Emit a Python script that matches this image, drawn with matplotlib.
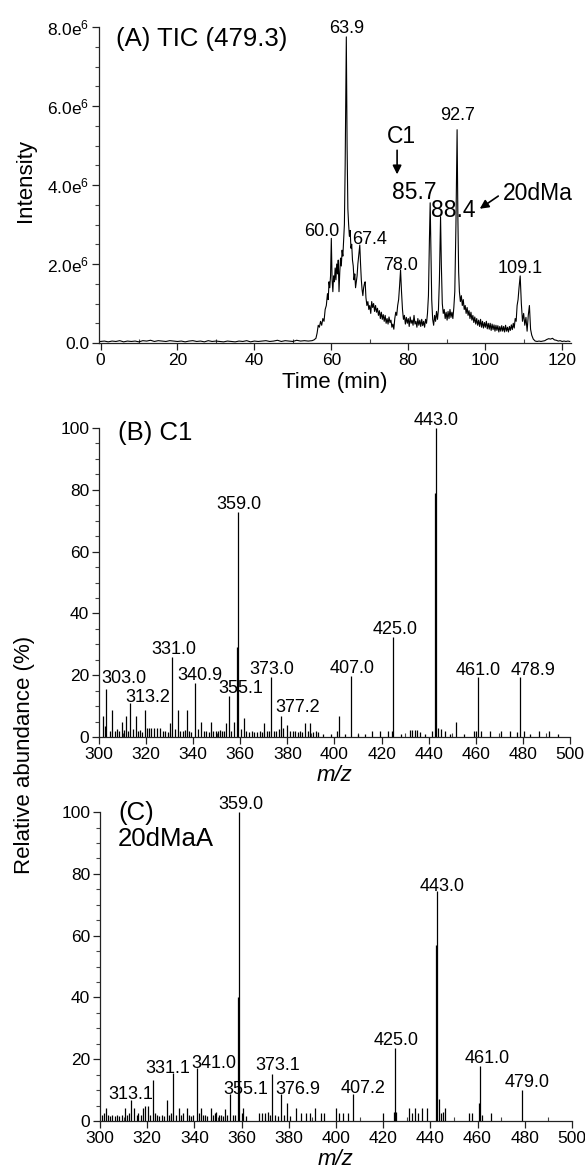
import numpy as np
import matplotlib
matplotlib.use("Agg")
from matplotlib import pyplot as plt
from matplotlib.ticker import MultipleLocator, FuncFormatter

plt.rcParams['font.family'] = ['Liberation Sans', 'DejaVu Sans']
plt.rcParams['mathtext.fontset'] = 'custom'
plt.rcParams['mathtext.rm'] = 'Liberation Sans'
plt.rcParams['mathtext.it'] = 'Liberation Sans:italic'

# ---- (A) TIC trace, intensity in units of 1e6 ----
tic_base_time = np.arange(0, 55, 1.0)
tic_base_int = [0.04, 0.05, 0.03, 0.05, 0.04, 0.06, 0.03, 0.05, 0.04, 0.05,
                0.03, 0.06, 0.05, 0.07, 0.04, 0.06, 0.05, 0.04, 0.06, 0.05,
                0.04, 0.05, 0.03, 0.05, 0.06, 0.04, 0.05, 0.03, 0.06, 0.04,
                0.05, 0.04, 0.03, 0.05, 0.04, 0.03, 0.05, 0.04, 0.06, 0.03,
                0.05, 0.04, 0.05, 0.06, 0.04, 0.05, 0.07, 0.04, 0.06, 0.05,
                0.04, 0.07, 0.05, 0.06, 0.05]
tic_points = [
    (55.0, 0.06), (55.5, 0.08), (56.0, 0.12), (56.3, 0.25), (56.6, 0.45), (56.9, 0.40),
    (57.2, 0.55), (57.5, 0.45), (57.8, 0.62), (58.1, 0.55), (58.4, 0.85), (58.7, 0.95),
    (59.0, 1.25), (59.2, 1.10), (59.4, 1.55), (59.6, 1.40), (59.8, 1.70), (60.0, 2.65),
    (60.2, 1.60), (60.4, 1.30), (60.6, 1.70), (60.8, 1.55), (61.0, 1.90), (61.2, 1.60),
    (61.4, 2.00), (61.6, 1.75), (61.8, 2.10), (62.0, 1.30), (62.2, 1.80), (62.4, 2.15),
    (62.6, 1.95), (62.8, 2.35), (63.0, 2.20), (63.2, 2.60), (63.4, 3.00), (63.6, 4.50),
    (63.9, 7.75), (64.1, 5.00), (64.3, 3.40), (64.5, 3.00), (64.7, 2.70), (64.9, 2.85),
    (65.1, 2.40), (65.3, 2.50), (65.5, 2.10), (65.7, 1.95), (65.9, 1.60), (66.1, 1.75),
    (66.3, 1.40), (66.5, 1.55), (66.7, 1.70), (66.9, 2.00), (67.1, 2.20), (67.4, 2.48),
    (67.6, 2.00), (67.8, 1.60), (68.0, 1.35), (68.2, 1.20), (68.4, 1.40), (68.6, 1.50),
    (68.8, 1.55), (69.0, 1.15), (69.25, 0.95), (69.5, 1.05), (69.75, 0.85), (70.0, 0.95),
    (70.25, 0.75), (70.5, 1.05), (70.75, 0.90), (71.0, 1.00), (71.25, 0.80), (71.5, 0.95),
    (71.75, 0.78), (72.0, 0.88), (72.25, 0.70), (72.5, 0.82), (72.75, 0.62), (73.0, 0.78),
    (73.25, 0.60), (73.5, 0.72), (73.75, 0.55), (74.0, 0.70), (74.25, 0.50), (74.5, 0.62),
    (74.75, 0.48), (75.0, 0.66), (75.25, 0.52), (75.5, 0.58), (75.75, 0.40), (76.0, 0.48),
    (76.25, 0.35), (76.5, 0.62), (76.75, 0.78), (77.0, 0.70), (77.25, 0.95), (77.5, 1.10),
    (77.75, 1.45), (78.0, 1.85), (78.25, 1.30), (78.5, 0.85), (78.75, 0.60), (79.0, 0.70),
    (79.25, 0.48), (79.5, 0.65), (79.75, 0.50), (80.0, 0.62), (80.25, 0.42), (80.5, 0.66),
    (80.75, 0.50), (81.0, 0.58), (81.25, 0.45), (81.5, 0.70), (81.75, 0.48), (82.0, 0.55),
    (82.25, 0.40), (82.5, 0.62), (82.75, 0.45), (83.0, 0.58), (83.25, 0.42), (83.5, 0.60),
    (83.75, 0.44), (84.0, 0.55), (84.25, 0.40), (84.5, 0.60), (84.75, 0.50), (85.0, 0.75),
    (85.25, 1.20), (85.5, 2.60), (85.7, 3.55), (85.9, 2.30), (86.1, 1.10), (86.35, 0.60),
    (86.6, 0.45), (86.85, 0.70), (87.1, 0.55), (87.35, 0.80), (87.6, 0.60), (87.85, 0.85),
    (88.1, 1.60), (88.4, 3.20), (88.6, 2.00), (88.85, 1.00), (89.1, 0.75), (89.35, 0.85),
    (89.6, 0.62), (89.85, 0.78), (90.1, 0.58), (90.35, 0.80), (90.6, 0.62), (90.85, 0.85),
    (91.1, 0.65), (91.35, 0.78), (91.6, 0.62), (91.85, 0.90), (92.1, 1.30), (92.4, 3.00),
    (92.7, 5.40), (92.9, 3.20), (93.1, 1.80), (93.3, 1.30), (93.55, 1.05), (93.8, 1.20),
    (94.05, 0.95), (94.3, 1.10), (94.55, 0.85), (94.8, 0.95), (95.05, 0.75), (95.3, 0.90),
    (95.55, 0.70), (95.8, 0.82), (96.05, 0.62), (96.3, 0.78), (96.55, 0.58), (96.8, 0.70),
    (97.05, 0.52), (97.3, 0.66), (97.55, 0.48), (97.8, 0.62), (98.05, 0.45), (98.3, 0.58),
    (98.55, 0.42), (98.8, 0.60), (99.05, 0.40), (99.3, 0.55), (99.55, 0.38), (99.8, 0.52),
    (100.05, 0.40), (100.3, 0.55), (100.55, 0.36), (100.8, 0.50), (101.05, 0.35), (101.3, 0.50),
    (101.55, 0.32), (101.8, 0.48), (102.05, 0.34), (102.3, 0.46), (102.55, 0.30), (102.8, 0.45),
    (103.05, 0.32), (103.3, 0.44), (103.55, 0.28), (103.8, 0.42), (104.05, 0.30), (104.3, 0.44),
    (104.55, 0.30), (104.8, 0.42), (105.05, 0.28), (105.3, 0.45), (105.55, 0.30), (105.8, 0.40),
    (106.05, 0.28), (106.3, 0.42), (106.55, 0.32), (106.8, 0.46), (107.05, 0.34), (107.3, 0.50),
    (107.55, 0.38), (107.8, 0.62), (108.05, 0.55), (108.3, 0.95), (108.55, 1.10), (108.8, 1.40),
    (109.1, 1.70), (109.4, 1.00), (109.7, 0.55), (110.0, 0.75), (110.3, 0.45), (110.6, 0.65),
    (110.9, 0.30), (111.2, 0.70), (111.5, 0.95), (111.8, 0.35), (112.1, 0.20), (112.5, 0.10),
    (113.0, 0.05), (113.5, 0.04), (114.0, 0.05), (114.5, 0.04), (115.0, 0.05), (115.5, 0.06),
    (116.0, 0.09), (116.5, 0.11), (117.0, 0.10), (117.5, 0.12), (118.0, 0.08), (118.5, 0.07),
    (119.0, 0.05), (119.5, 0.06), (120.0, 0.04), (120.5, 0.05), (121.0, 0.04), (121.5, 0.05),
    (122.0, 0.04),
]
tic_peaks = [60.0, 63.9, 67.4, 78.0, 85.7, 88.4, 92.7, 109.1]
tic_big_labels = [85.7, 88.4]

# ---- (B) C1 spectrum ----
b_mz = [301.6, 302.4, 303.0, 304.5, 305.7, 306.8, 307.7, 308.6, 309.6, 310.5,
        311.6, 312.4, 313.2, 314.3, 315.6, 316.5, 317.4, 318.3, 319.6, 320.6,
        321.4, 322.3, 323.4, 324.7, 326.0, 327.0, 328.1, 329.1, 330.0, 331.0,
        332.1, 333.6, 334.5, 335.5, 336.5, 337.5, 338.4, 339.2, 340.9, 342.2,
        343.5, 344.6, 345.6, 346.6, 347.5, 348.6, 349.5, 350.6, 351.4, 352.4,
        353.2, 354.0, 355.1, 356.2, 357.5, 358.6, 359.0, 360.3, 361.5, 362.6,
        363.6, 364.8, 366.0, 367.3, 368.4, 369.4, 370.0, 371.3, 372.3, 373.0,
        374.3, 375.3, 376.4, 377.2, 378.3, 379.7, 381.0, 382.3, 383.4, 384.5,
        385.4, 386.4, 387.6, 388.6, 389.7, 390.8, 392.2, 393.1, 395.2, 398.4,
        401.0, 402.0, 404.3, 407.0, 409.8, 413.0, 416.1, 419.4, 422.7, 424.6,
        425.0, 428.2, 432.0, 433.0, 434.0, 435.2, 436.5, 438.3, 441.5, 442.6,
        443.0, 444.0, 445.2, 446.8, 449.0, 451.4, 455.0, 459.2, 460.3, 461.0,
        462.3, 466.0, 470.8, 474.6, 477.6, 478.9, 480.3, 483.0, 487.0, 491.0,
        495.0]
b_abund = [6.8, 3.5, 15.4, 2.0, 8.9, 2.0, 2.5, 1.8, 5.0, 2.2,
           6.8, 2.0, 11.0, 2.5, 6.8, 1.8, 2.2, 1.5, 8.9, 3.0,
           3.0, 3.0, 3.0, 3.0, 3.0, 1.8, 2.0, 1.5, 4.6, 26.0,
           2.5, 8.9, 2.0, 1.8, 2.2, 8.9, 2.0, 1.5, 17.5, 2.5,
           5.0, 1.8, 2.0, 1.5, 5.0, 2.0, 1.8, 2.0, 2.2, 1.8,
           2.0, 4.6, 13.3, 2.0, 5.0, 29.0, 72.8, 2.5, 6.0, 2.0,
           1.5, 1.8, 1.5, 1.5, 1.8, 1.5, 4.6, 1.8, 2.0, 19.5,
           1.8, 2.0, 2.5, 6.8, 3.0, 4.0, 1.8, 2.0, 1.8, 1.5,
           2.0, 1.5, 4.6, 2.0, 4.6, 1.5, 2.0, 1.5, 1.0, 1.0,
           2.0, 6.8, 1.0, 19.7, 1.0, 1.0, 2.0, 2.0, 2.0, 2.0,
           32.4, 1.0, 2.2, 2.2, 2.2, 2.2, 1.5, 1.0, 2.0, 79.0,
           100.0, 3.0, 2.5, 2.0, 1.0, 5.0, 1.0, 2.0, 2.0, 19.3,
           2.0, 2.0, 2.0, 2.0, 1.5, 19.3, 2.0, 1.0, 2.0, 2.0,
           1.0]
b_labels = [303.0, 313.2, 331.0, 340.9, 355.1, 359.0, 373.0, 377.2, 407.0,
            425.0, 443.0, 461.0, 478.9]

# ---- (C) 20dMaA spectrum ----
c_mz = [300.8, 301.6, 302.7, 303.5, 304.4, 305.3, 306.2, 307.3, 308.2, 309.3,
        310.8, 311.6, 312.4, 313.1, 314.6, 315.5, 316.3, 317.2, 318.3, 319.2,
        320.2, 321.1, 322.3, 323.3, 324.2, 325.1, 326.2, 327.3, 328.5, 329.3,
        330.3, 331.1, 332.2, 333.4, 334.3, 335.3, 336.9, 337.8, 338.7, 339.6,
        341.0, 341.8, 342.8, 343.7, 344.6, 345.5, 346.9, 347.8, 348.6, 349.3,
        350.3, 351.2, 352.1, 352.8, 353.8, 355.1, 356.2, 357.3, 358.5, 359.0,
        360.0, 360.8, 362.0, 367.2, 368.5, 369.8, 371.0, 372.2, 373.1, 374.2,
        375.4, 376.9, 377.8, 379.1, 380.6, 383.0, 385.2, 387.1, 389.0, 391.0,
        393.5, 395.0, 400.1, 401.4, 403.0, 405.0, 407.2, 420.0, 424.4, 425.0,
        425.6, 430.8, 432.2, 433.6, 434.8, 436.4, 438.7, 442.6, 443.0, 443.8,
        444.6, 445.5, 446.4, 456.2, 457.5, 460.6, 461.0, 462.0, 465.5, 479.0]
c_abund = [2.0, 2.5, 4.3, 2.0, 1.5, 2.0, 1.5, 2.0, 1.5, 2.0,
           4.3, 2.0, 2.5, 6.8, 4.3, 2.0, 2.5, 1.8, 4.3, 4.8,
           4.8, 2.0, 13.3, 2.5, 2.0, 1.5, 2.0, 1.5, 6.8, 2.0,
           2.5, 15.7, 2.0, 4.3, 2.0, 2.5, 4.3, 2.0, 1.5, 2.0,
           17.3, 2.5, 4.3, 2.0, 2.0, 1.5, 4.3, 2.0, 2.5, 3.0,
           2.0, 2.0, 1.5, 4.0, 2.0, 8.8, 2.0, 2.0, 40.0, 100.0,
           2.5, 4.3, 1.5, 2.5, 2.5, 2.5, 3.0, 2.0, 15.1, 2.0,
           1.5, 8.8, 2.0, 5.9, 1.5, 4.3, 2.5, 2.5, 2.5, 4.3,
           2.5, 2.5, 4.3, 2.5, 2.5, 2.5, 8.6, 2.5, 3.0, 23.8,
           3.0, 4.3, 2.5, 4.3, 2.5, 4.3, 4.3, 57.0, 74.3, 7.0,
           2.5, 3.0, 4.3, 2.5, 2.5, 6.0, 17.9, 2.0, 2.5, 10.0]
c_labels = [313.1, 331.1, 341.0, 355.1, 359.0, 373.1, 376.9, 407.2, 425.0,
            443.0, 461.0, 479.0]

# label offsets in points (layout only)
tic_offsets = {60.0: (-7, 2), 63.9: (0, 3), 67.4: (7, 1), 78.0: (0, 0),
               85.7: (-11.5, 2.7), 88.4: (9, -0.5), 92.7: (0, 7), 109.1: (0, 2)}
b_offsets = {303.0: (13, 4.5), 313.2: (13, 1), 331.0: (1, 2), 340.9: (3, 2),
             355.1: (9, 2), 359.0: (1, 2), 373.0: (1, 2), 377.2: (12, 3),
             407.0: (1, 2), 425.0: (1, 2), 443.0: (0, 2), 461.0: (0, 2), 478.9: (9, 2)}
c_offsets = {313.1: (0, 1), 331.1: (-4, -0.5), 341.0: (12, 0), 355.1: (11.5, 0),
             359.0: (1, 2), 373.1: (3.5, 3), 376.9: (11.5, 0), 407.2: (7, 1),
             425.0: (1, 1.5), 443.0: (3.5, 0), 461.0: (5, 2), 479.0: (3.5, 2)}

TICK_FS = 12.5
LABEL_FS = 16
PEAK_FS = 13
TITLE_FS = 18.5


def style_axes(ax):
    for side in ['top', 'right']:
        ax.spines[side].set_visible(False)
    for side in ['left', 'bottom']:
        ax.spines[side].set_linewidth(0.9)
        ax.spines[side].set_color('#222222')
    ax.tick_params(which='major', labelsize=TICK_FS, length=5, width=0.9, direction='out',
                   color='#222222', pad=2)
    ax.tick_params(axis='y', which='minor', length=3, width=0.8, direction='out', color='#444444')
    ax.tick_params(axis='x', which='minor', length=3, width=0.8, direction='in', color='#444444')


fig = plt.figure(figsize=(5.85, 11.74), dpi=100)

# ---- panel A ----
axA = fig.add_axes([0.1692, 0.7078, 0.8068, 0.2692])
tic_time = np.concatenate([tic_base_time, [p[0] for p in tic_points]])
tic_int = np.concatenate([tic_base_int, [p[1] for p in tic_points]]) * 1e6
axA.plot(tic_time, tic_int, color='black', lw=0.8)
axA.set_xlim(-0.4, 122.3)
axA.set_ylim(0, 8e6)
axA.xaxis.set_major_locator(MultipleLocator(20))
axA.xaxis.set_minor_locator(MultipleLocator(10))
axA.yaxis.set_major_locator(MultipleLocator(2e6))
axA.yaxis.set_minor_locator(MultipleLocator(0.5e6))
axA.yaxis.set_major_formatter(FuncFormatter(
    lambda v, _: "0.0" if v == 0 else f"{v / 1e6:.1f}e$^{{\\mathregular{{6}}}}$"))
style_axes(axA)
axA.set_xlabel("Time (min)", fontsize=LABEL_FS, labelpad=3)
fig.text(25 / 585, 1 - 180 / 1174, "Intensity", rotation=90, fontsize=LABEL_FS,
         ha='center', va='center')
axA.text(0.036, 0.962, "(A) TIC (479.3)", transform=axA.transAxes, fontsize=TITLE_FS,
         ha='left', va='center')
for t in tic_peaks:
    h = np.interp(t, tic_time, tic_int)
    dx, dy = tic_offsets[t]
    fs = 16.5 if t in tic_big_labels else PEAK_FS
    axA.annotate(f"{t:.1f}", (t, h), xytext=(dx, dy), textcoords='offset points',
                 ha='center', va='baseline', fontsize=fs, annotation_clip=False)
axA.text(78.1, 5.22e6, "C1", fontsize=16.5, ha='center', va='center')
axA.annotate("", xy=(77.1, 4.2e6), xytext=(77.1, 4.95e6),
             arrowprops=dict(arrowstyle='-|>', color='black', lw=1.2, mutation_scale=13))
axA.text(113.6, 3.79e6, "20dMa", fontsize=16.5, ha='center', va='center')
axA.annotate("", xy=(98.0, 3.36e6), xytext=(104.0, 3.76e6),
             arrowprops=dict(arrowstyle='-|>', color='black', lw=1.2, mutation_scale=13))


def spectrum(ax, mz, abund, labels, offsets):
    ax.vlines(mz, 0, abund, color='black', lw=0.9)
    ax.set_xlim(300, 500)
    ax.set_ylim(0, 100)
    ax.xaxis.set_major_locator(MultipleLocator(20))
    ax.xaxis.set_minor_locator(MultipleLocator(10))
    ax.yaxis.set_major_locator(MultipleLocator(20))
    ax.yaxis.set_minor_locator(MultipleLocator(5))
    style_axes(ax)
    ax.set_xlabel("m/z", fontsize=LABEL_FS, fontstyle='italic', labelpad=2)
    for m in labels:
        h = abund[mz.index(m)]
        dx, dy = offsets[m]
        ax.annotate(f"{m:.1f}", (m, h), xytext=(dx, dy), textcoords='offset points',
                    ha='center', va='baseline', fontsize=PEAK_FS, annotation_clip=False)


axB = fig.add_axes([0.1692, 0.3722, 0.8051, 0.2632])
spectrum(axB, b_mz, b_abund, b_labels, b_offsets)
axB.text(0.04, 0.984, "(B) C1", transform=axB.transAxes, fontsize=TITLE_FS,
         ha='left', va='center')

axC = fig.add_axes([0.1709, 0.0451, 0.8068, 0.2632])
spectrum(axC, c_mz, c_abund, c_labels, c_offsets)
axC.text(0.038, 0.955, "(C)\n20dMaA", transform=axC.transAxes, fontsize=TITLE_FS,
         ha='left', va='center', linespacing=1.1)

fig.text(25 / 585, 1 - 755 / 1174, "Relative abundance (%)", rotation=90,
         fontsize=LABEL_FS, ha='center', va='center')

fig.savefig("out.png", dpi=100)
